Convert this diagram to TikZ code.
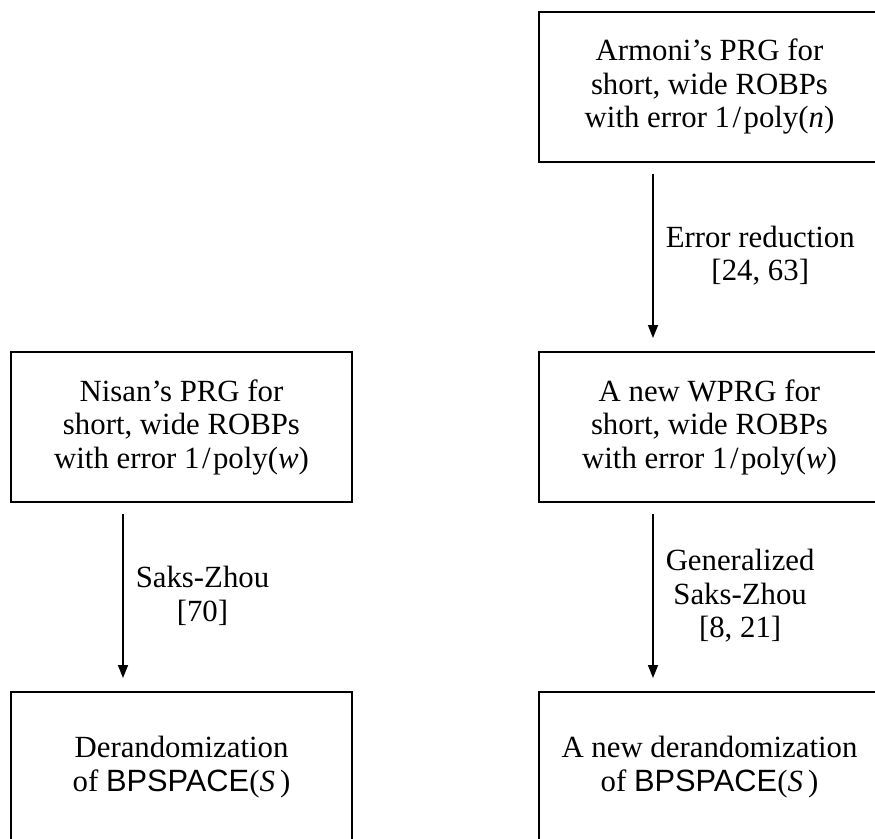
\documentclass[tikz,border=0pt]{standalone}
\usepackage{fontspec}
\setmainfont{Liberation Serif}
\setsansfont{Liberation Sans}
\usetikzlibrary{arrows.meta}
\newcommand{\slsh}{\kern0.08em/\kern0.08em}
\begin{document}
\begin{tikzpicture}[x=1pt,y=-1pt,
  box/.style={draw, line width=2pt, minimum width=341pt, minimum height=150pt, inner sep=0pt, align=center, font=\fontsize{30.8}{33.5}\selectfont},
  lbl/.style={align=center, anchor=west, inner sep=0pt, font=\fontsize{30.8}{33.5}\selectfont},
  arr/.style={line width=1.5pt, -{Triangle[length=13pt,width=10pt]}}]
\useasboundingbox (0,0) rectangle (875,838);
\clip (0,0) rectangle (875,838);
\node[box] (armoni) at (709.5,86.5) {Armoni’s PRG for\\short, wide ROBPs\\with error 1\slsh poly(\textit{n})};
\node[box] (nisan) at (181.5,427) {Nisan’s PRG for\\short, wide ROBPs\\with error 1\slsh poly(\textit{w})};
\node[box] (wprg) at (709.5,427) {A new WPRG for\\short, wide ROBPs\\with error 1\slsh poly(\textit{w})};
\node[box] (derand) at (181.5,767) {Derandomization\\of \textsf{BPSPACE}(\textit{S}\,)};
\node[box] (newderand) at (709.5,767) {A new derandomization\\of \textsf{BPSPACE}(\textit{S}\,)};
\draw[arr] ([xshift=-56.5pt,yshift=-11pt]armoni.south) -- ([xshift=-56.5pt,yshift=13pt]wprg.north)
  node[midway, lbl, xshift=12pt] (l1) {Error reduction\\{}[24, 63]};
\draw[arr] ([xshift=-58.5pt,yshift=-11pt]nisan.south) -- ([xshift=-58.5pt,yshift=13pt]derand.north)
  node[midway, lbl, xshift=12pt] (l2) {Saks-Zhou\\{}[70]};
\draw[arr] ([xshift=-56.5pt,yshift=-11pt]wprg.south) -- ([xshift=-56.5pt,yshift=13pt]newderand.north)
  node[midway, lbl, xshift=12pt] (l3) {Generalized\\Saks-Zhou\\{}[8, 21]};
\end{tikzpicture}
\end{document}
